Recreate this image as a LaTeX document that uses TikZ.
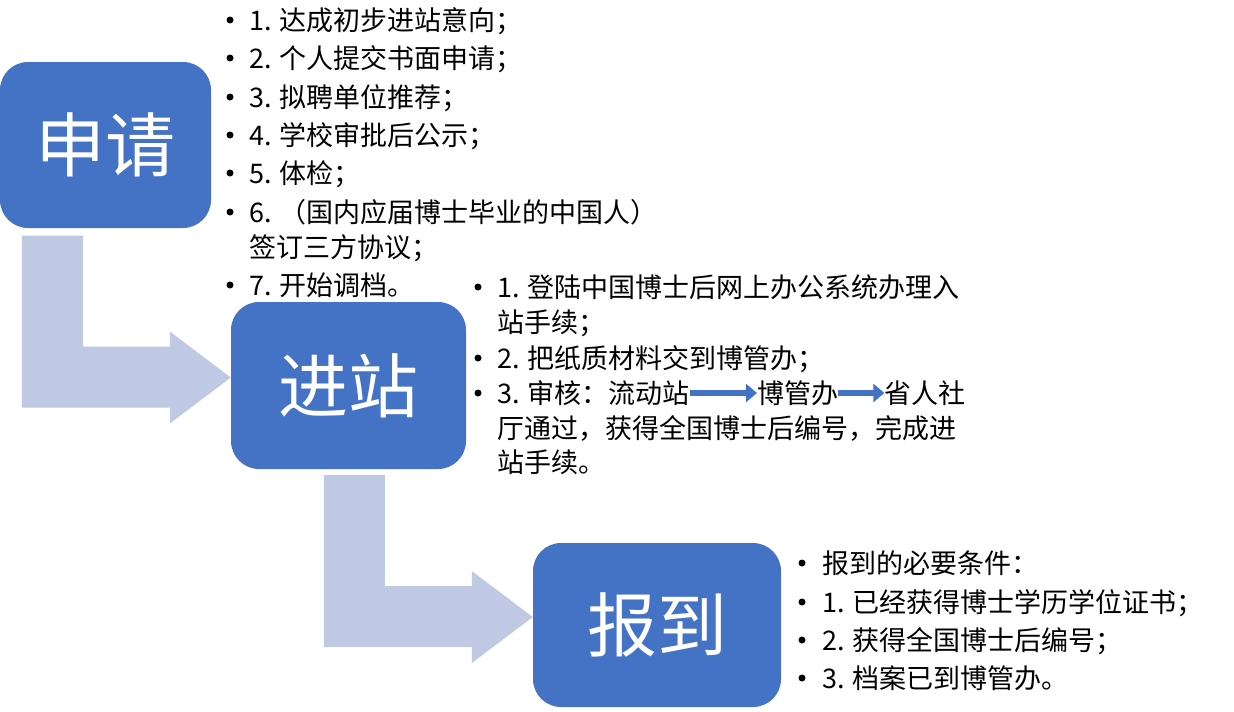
\documentclass[tikz,border=0pt]{standalone}
\usepackage{fontspec}
\setmainfont{Noto Sans CJK SC}
\usepackage{tikz}
\usetikzlibrary{arrows.meta,positioning}
\definecolor{stageblue}{RGB}{68,114,196}
\definecolor{flowblue}{RGB}{191,201,227}
\tikzset
{
    stage/.style = {rectangle, rounded corners=28pt, fill=stageblue, text=white, align=center, font=\fontsize{70}{80}\selectfont},
    listline/.style = {anchor=west, inner sep=0pt, text height=23.8pt, text depth=3.2pt, font=\fontsize{27}{32}\selectfont},
    flow/.style = {fill=flowblue},
    pass/.style = {draw=stageblue, line width=6.5pt, -{Triangle[length=11pt,width=18pt]}}
}
\newcommand{\bendarrow}[1]{\fill[flow] (#1) -- ++(-61,-46) -- ++(0,15) -- ++(-87,0) -- ++(0,-111) -- ++(-61,0) -- ++(0,172) -- ++(148,0) -- ++(0,16) -- cycle;}

\begin{document}
\begin{tikzpicture}[x=1pt, y=-1pt]
	\useasboundingbox (0,0) rectangle (1234,712);
	\node[stage, minimum width=211pt, minimum height=166pt] (apply) at (105.5,145) {申请};
	\node[stage, minimum width=235pt, minimum height=167pt] (enter) at (348.5,385.5) {进站};
	\node[stage, minimum width=248pt, minimum height=164pt] (report) at (657,625) {报到};
	\bendarrow{[yshift=8pt]enter.west}
	\bendarrow{[yshift=8pt]report.west}
	\foreach \y/\t/\b [count=\i] in {20/{1. 达成初步进站意向；}/1, 58/{2. 个人提交书面申请；}/1, 97/{3. 拟聘单位推荐；}/1, 135/{4. 学校审批后公示；}/1, 173/{5. 体检；}/1, 212/{6. （国内应届博士毕业的中国人）}/1, 247/{签订三方协议；}/0, 285/{7. 开始调档。}/1}
	{
		\node[listline] (applyitem\i) at (249,\y) {\t};
		\ifnum\b=1 \fill ([xshift=-19pt]applyitem\i.west) circle (3.5pt); \fi
	}
	\foreach \y/\t/\b [count=\i] in {287/{1. 登陆中国博士后网上办公系统办理入}/1, 322/{站手续；}/0, 358/{2. 把纸质材料交到博管办；}/1, 428/{厅通过，获得全国博士后编号，完成进}/0, 462/{站手续。}/0}
	{
		\node[listline] (enteritem\i) at (497,\y) {\t};
		\ifnum\b=1 \fill ([xshift=-19pt]enteritem\i.west) circle (3.5pt); \fi
	}
	\node[listline] (checkA) at (497,393) {3. 审核：流动站};
	\node[listline, right=67pt of checkA] (checkB) {博管办};
	\node[listline, right=46pt of checkB] (checkC) {省人社};
	\fill ([xshift=-19pt]checkA.west) circle (3.5pt);
	\draw[pass] (checkA.east) -- (checkB.west);
	\draw[pass] (checkB.east) -- (checkC.west);
	\foreach \y/\t [count=\i] in {563/{报到的必要条件：}, 602/{1. 已经获得博士学历学位证书；}, 640/{2. 获得全国博士后编号；}, 678/{3. 档案已到博管办。}}
	{
		\node[listline] (reportitem\i) at (822,\y) {\t};
		\fill ([xshift=-20pt]reportitem\i.west) circle (3.5pt);
	}
\end{tikzpicture}
\end{document}
